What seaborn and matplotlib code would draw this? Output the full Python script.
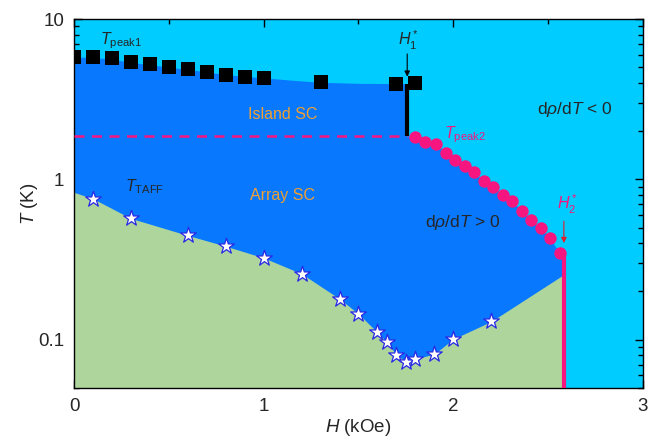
import numpy as np
import pandas as pd
import seaborn as sns
from matplotlib import pyplot as plt
from matplotlib.ticker import MultipleLocator, FixedLocator, FixedFormatter

## Data
# T_peak1 (black squares)
peak1_H = [0.0, 0.1, 0.2, 0.3, 0.4, 0.5, 0.6, 0.7, 0.8, 0.9, 1.0, 1.3, 1.7, 1.8]
peak1_T = [5.76, 5.81, 5.68, 5.36, 5.23, 4.99, 4.87, 4.69, 4.49, 4.36, 4.26, 4.05, 3.92, 3.98]

# T_peak2 (pink circles)
peak2_H = [1.80, 1.85, 1.91, 1.96, 2.01, 2.06, 2.11, 2.16, 2.21, 2.26, 2.31, 2.36, 2.41, 2.46, 2.51, 2.56]
peak2_T = [1.85, 1.71, 1.65, 1.47, 1.33, 1.21, 1.11, 0.976, 0.90, 0.794, 0.732, 0.634, 0.557, 0.494, 0.428, 0.348]

# T_TAFF (stars)
taff_H = [0.1, 0.3, 0.6, 0.8, 1.0, 1.2, 1.4, 1.5, 1.6, 1.65, 1.7, 1.75, 1.8, 1.9, 2.0, 2.2]
taff_T = [0.758, 0.571, 0.447, 0.383, 0.324, 0.258, 0.180, 0.145, 0.111, 0.0962, 0.0806, 0.0731, 0.076, 0.0814, 0.101, 0.130]

# region edges
island_H = [0.0, 0.1, 0.2, 0.3, 0.4, 0.5, 0.6, 0.7, 0.8, 0.9, 1.0, 1.15, 1.3, 1.5, 1.757]
island_T = [5.8, 5.75, 5.62, 5.36, 5.2, 5.0, 4.85, 4.68, 4.5, 4.38, 4.3, 4.15, 4.03, 3.97, 3.95]
array_H = [1.757, 1.80, 1.85, 1.91, 1.96, 2.01, 2.06, 2.11, 2.16, 2.21, 2.26, 2.31, 2.36, 2.41, 2.46, 2.51, 2.56, 2.583]
array_T = [1.87, 1.85, 1.71, 1.65, 1.47, 1.33, 1.21, 1.11, 0.976, 0.90, 0.794, 0.732, 0.634, 0.557, 0.494, 0.428, 0.348, 0.335]
green_H = [0.0] + taff_H + [2.583]
green_T = [0.83] + taff_T + [0.255]

H1_star = 1.757
H2_star = 2.583
T_dash = 1.87
T_min = 0.05

cyan = '#00CCFF'
blue = '#0878FF'
green = '#AED69C'
pink = '#F7157F'
orange = '#F0A030'

sns.set_style("ticks")
plt.rcParams['font.family'] = ['Liberation Sans', 'DejaVu Sans']
plt.rcParams['mathtext.fontset'] = 'custom'
plt.rcParams['mathtext.rm'] = 'Liberation Sans'
plt.rcParams['mathtext.it'] = 'Liberation Sans:italic'

fig = plt.figure(figsize=(6.48, 4.41), dpi=100)
ax = fig.add_axes([0.1142, 0.1202, 0.878, 0.8367])
ax.set_facecolor(cyan)
ax.set_yscale('log')

## shaded regions
blue_H = island_H + array_H
blue_T = island_T + array_T
ax.fill_between(blue_H, T_min, blue_T, color=blue, lw=0, zorder=1)
ax.fill_between(green_H, T_min, green_T, color=green, lw=0, zorder=2)

## boundary lines
ax.plot([0, H1_star], [T_dash, T_dash], color=pink, lw=1.8, ls=(0, (4, 3)), zorder=3)
ax.plot([H1_star, H1_star], [island_T[-1], T_dash], color='black', lw=3, zorder=3, solid_capstyle='butt')
ax.plot([H2_star, H2_star], [peak2_T[-1], T_min], color=pink, lw=3, zorder=3, solid_capstyle='butt')

## markers
sns.scatterplot(x=peak1_H, y=peak1_T, marker='s', s=90, color='black', edgecolor='black', linewidth=0, ax=ax, zorder=5)
sns.scatterplot(x=peak2_H, y=peak2_T, marker='o', s=80, color=pink, edgecolor=pink, linewidth=0, ax=ax, zorder=5)
sns.scatterplot(x=taff_H, y=taff_T, marker='*', s=140, color='white', edgecolor='#2828E6', linewidth=0.9, ax=ax, zorder=5)

## arrows
ax.annotate('', xy=(H1_star, 4.2), xytext=(H1_star, 6.3),
            arrowprops=dict(arrowstyle='-|>', color='black', lw=0.8, mutation_scale=8), zorder=6)
ax.annotate('', xy=(H2_star, 0.385), xytext=(H2_star, 0.57),
            arrowprops=dict(arrowstyle='-|>', color='#E0202A', lw=0.8, mutation_scale=8), zorder=6)

## labels
fs = 11.5
ax.text(0.135, 7.0, r'$T_{\mathrm{peak1}}$', fontsize=fs, ha='left', va='baseline')
ax.text(1.10, 2.55, 'Island SC', fontsize=fs, color=orange, ha='center', va='center')
ax.text(1.10, 0.794, 'Array SC', fontsize=fs, color=orange, ha='center', va='center')
ax.text(0.27, 0.847, r'$T_{\mathrm{TAFF}}$', fontsize=fs, ha='left', va='baseline')
ax.text(2.44, 2.74, r'd$\rho$/d$T$ < 0', fontsize=12.5, ha='left', va='center')
ax.text(1.85, 0.539, r'd$\rho$/d$T$ > 0', fontsize=12.5, ha='left', va='center')
ax.text(1.95, 1.80, r'$T_{\mathrm{peak2}}$', fontsize=fs, color=pink, ha='left', va='baseline')
ax.text(1.71, 6.8, r'$H_1^*$', fontsize=fs, ha='left', va='baseline')
ax.text(2.549, 0.65, r'$H_2^*$', fontsize=fs, color=pink, ha='left', va='baseline')

## axes
ax.set_xlim(0, 3)
ax.set_ylim(T_min, 10)
ax.xaxis.set_major_locator(MultipleLocator(1))
ax.xaxis.set_minor_locator(MultipleLocator(0.5))
ax.yaxis.set_major_locator(FixedLocator([0.1, 1, 10]))
ax.yaxis.set_major_formatter(FixedFormatter(['0.1', '1', '10']))
ax.tick_params(which='both', direction='in', top=True, right=True, labelsize=13.5, color='black', width=1)
ax.tick_params(which='major', length=5.5, pad=7)
ax.tick_params(which='minor', length=3.5)
for sp in ax.spines.values():
    sp.set_color('black')
    sp.set_linewidth(1.0)

ax.set_xlabel(r'$H$ (kOe)', fontsize=13.5, labelpad=2)
ax.set_ylabel(r'$T$ (K)', fontsize=13.5, labelpad=-1)

fig.savefig('out.png', dpi=100)
